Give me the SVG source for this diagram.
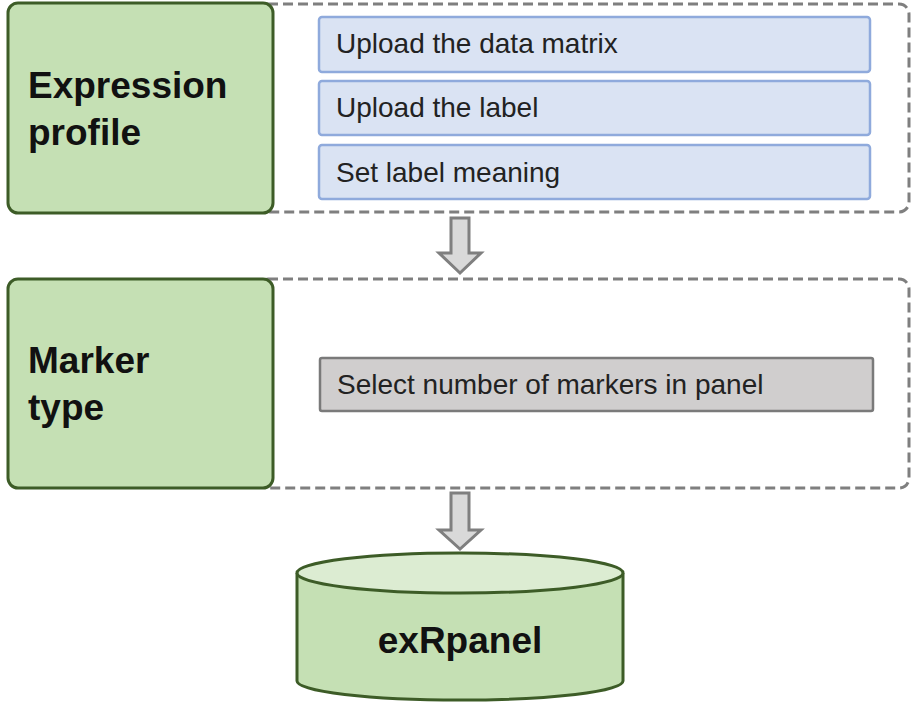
<svg xmlns="http://www.w3.org/2000/svg" width="912" height="704" viewBox="0 0 912 704">
<style>
.dash{fill:none;stroke:#7f7f7f;stroke-width:3;stroke-dasharray:10 5}
.green{fill:#c5e0b4;stroke:#3d5c27;stroke-width:3}
.blue{fill:#dae3f3;stroke:#8faadc;stroke-width:2.5}
.grey{fill:#d0cece;stroke:#7a7a7a;stroke-width:2.5}
.arrow{fill:#d9d9d9;stroke:#7f7f7f;stroke-width:3;stroke-linejoin:miter}
.title{font-family:"Liberation Sans",Arial,sans-serif;font-weight:bold;font-size:37px;fill:#111}
.item{font-family:"Liberation Sans",Arial,sans-serif;font-size:28px;fill:#222}
</style>
<rect width="912" height="704" fill="#fff"/>
<g id="group-expression">
<rect class="dash" x="258" y="4" width="651" height="208" rx="10"/>
</g>
<g id="group-marker">
<rect class="dash" x="258" y="279" width="651" height="209" rx="10"/>
</g>
<g id="node-expression-profile">
<rect class="green" x="8" y="3" width="265" height="210" rx="10"/>
<text class="title" x="28" y="98">Expression</text>
<text class="title" x="28" y="145">profile</text>
</g>
<g id="node-upload-matrix">
<rect class="blue" x="319" y="17" width="551" height="55" rx="3"/>
<text class="item" x="336" y="53">Upload the data matrix</text>
</g>
<g id="node-upload-label">
<rect class="blue" x="319" y="81" width="551" height="54" rx="3"/>
<text class="item" x="336" y="117">Upload the label</text>
</g>
<g id="node-set-label">
<rect class="blue" x="319" y="145" width="551" height="54" rx="3"/>
<text class="item" x="336" y="182">Set label meaning</text>
</g>
<g id="node-marker-type">
<rect class="green" x="8" y="279" width="265" height="209" rx="10"/>
<text class="title" x="28" y="373">Marker</text>
<text class="title" x="28" y="420">type</text>
</g>
<g id="node-select-number">
<rect class="grey" x="320" y="358" width="553" height="53" rx="2"/>
<text class="item" x="337" y="394">Select number of markers in panel</text>
</g>
<g id="node-exrpanel">
<path class="green" d="M297,573 L297,681 A163,19 0 0 0 623,681 L623,573"/>
<ellipse cx="460" cy="573" rx="163" ry="20" fill="#dcecd2" stroke="#3d5c27" stroke-width="3"/>
<text class="title" x="460" y="653" text-anchor="middle">exRpanel</text>
</g>
<g id="connectors">
<path class="arrow" d="M451,218 L469,218 L469,253 L481,253 L460,273 L439,253 L451,253 Z"/>
<path class="arrow" d="M451,493 L469,493 L469,530 L481,530 L460,549 L439,530 L451,530 Z"/>
</g>
</svg>
